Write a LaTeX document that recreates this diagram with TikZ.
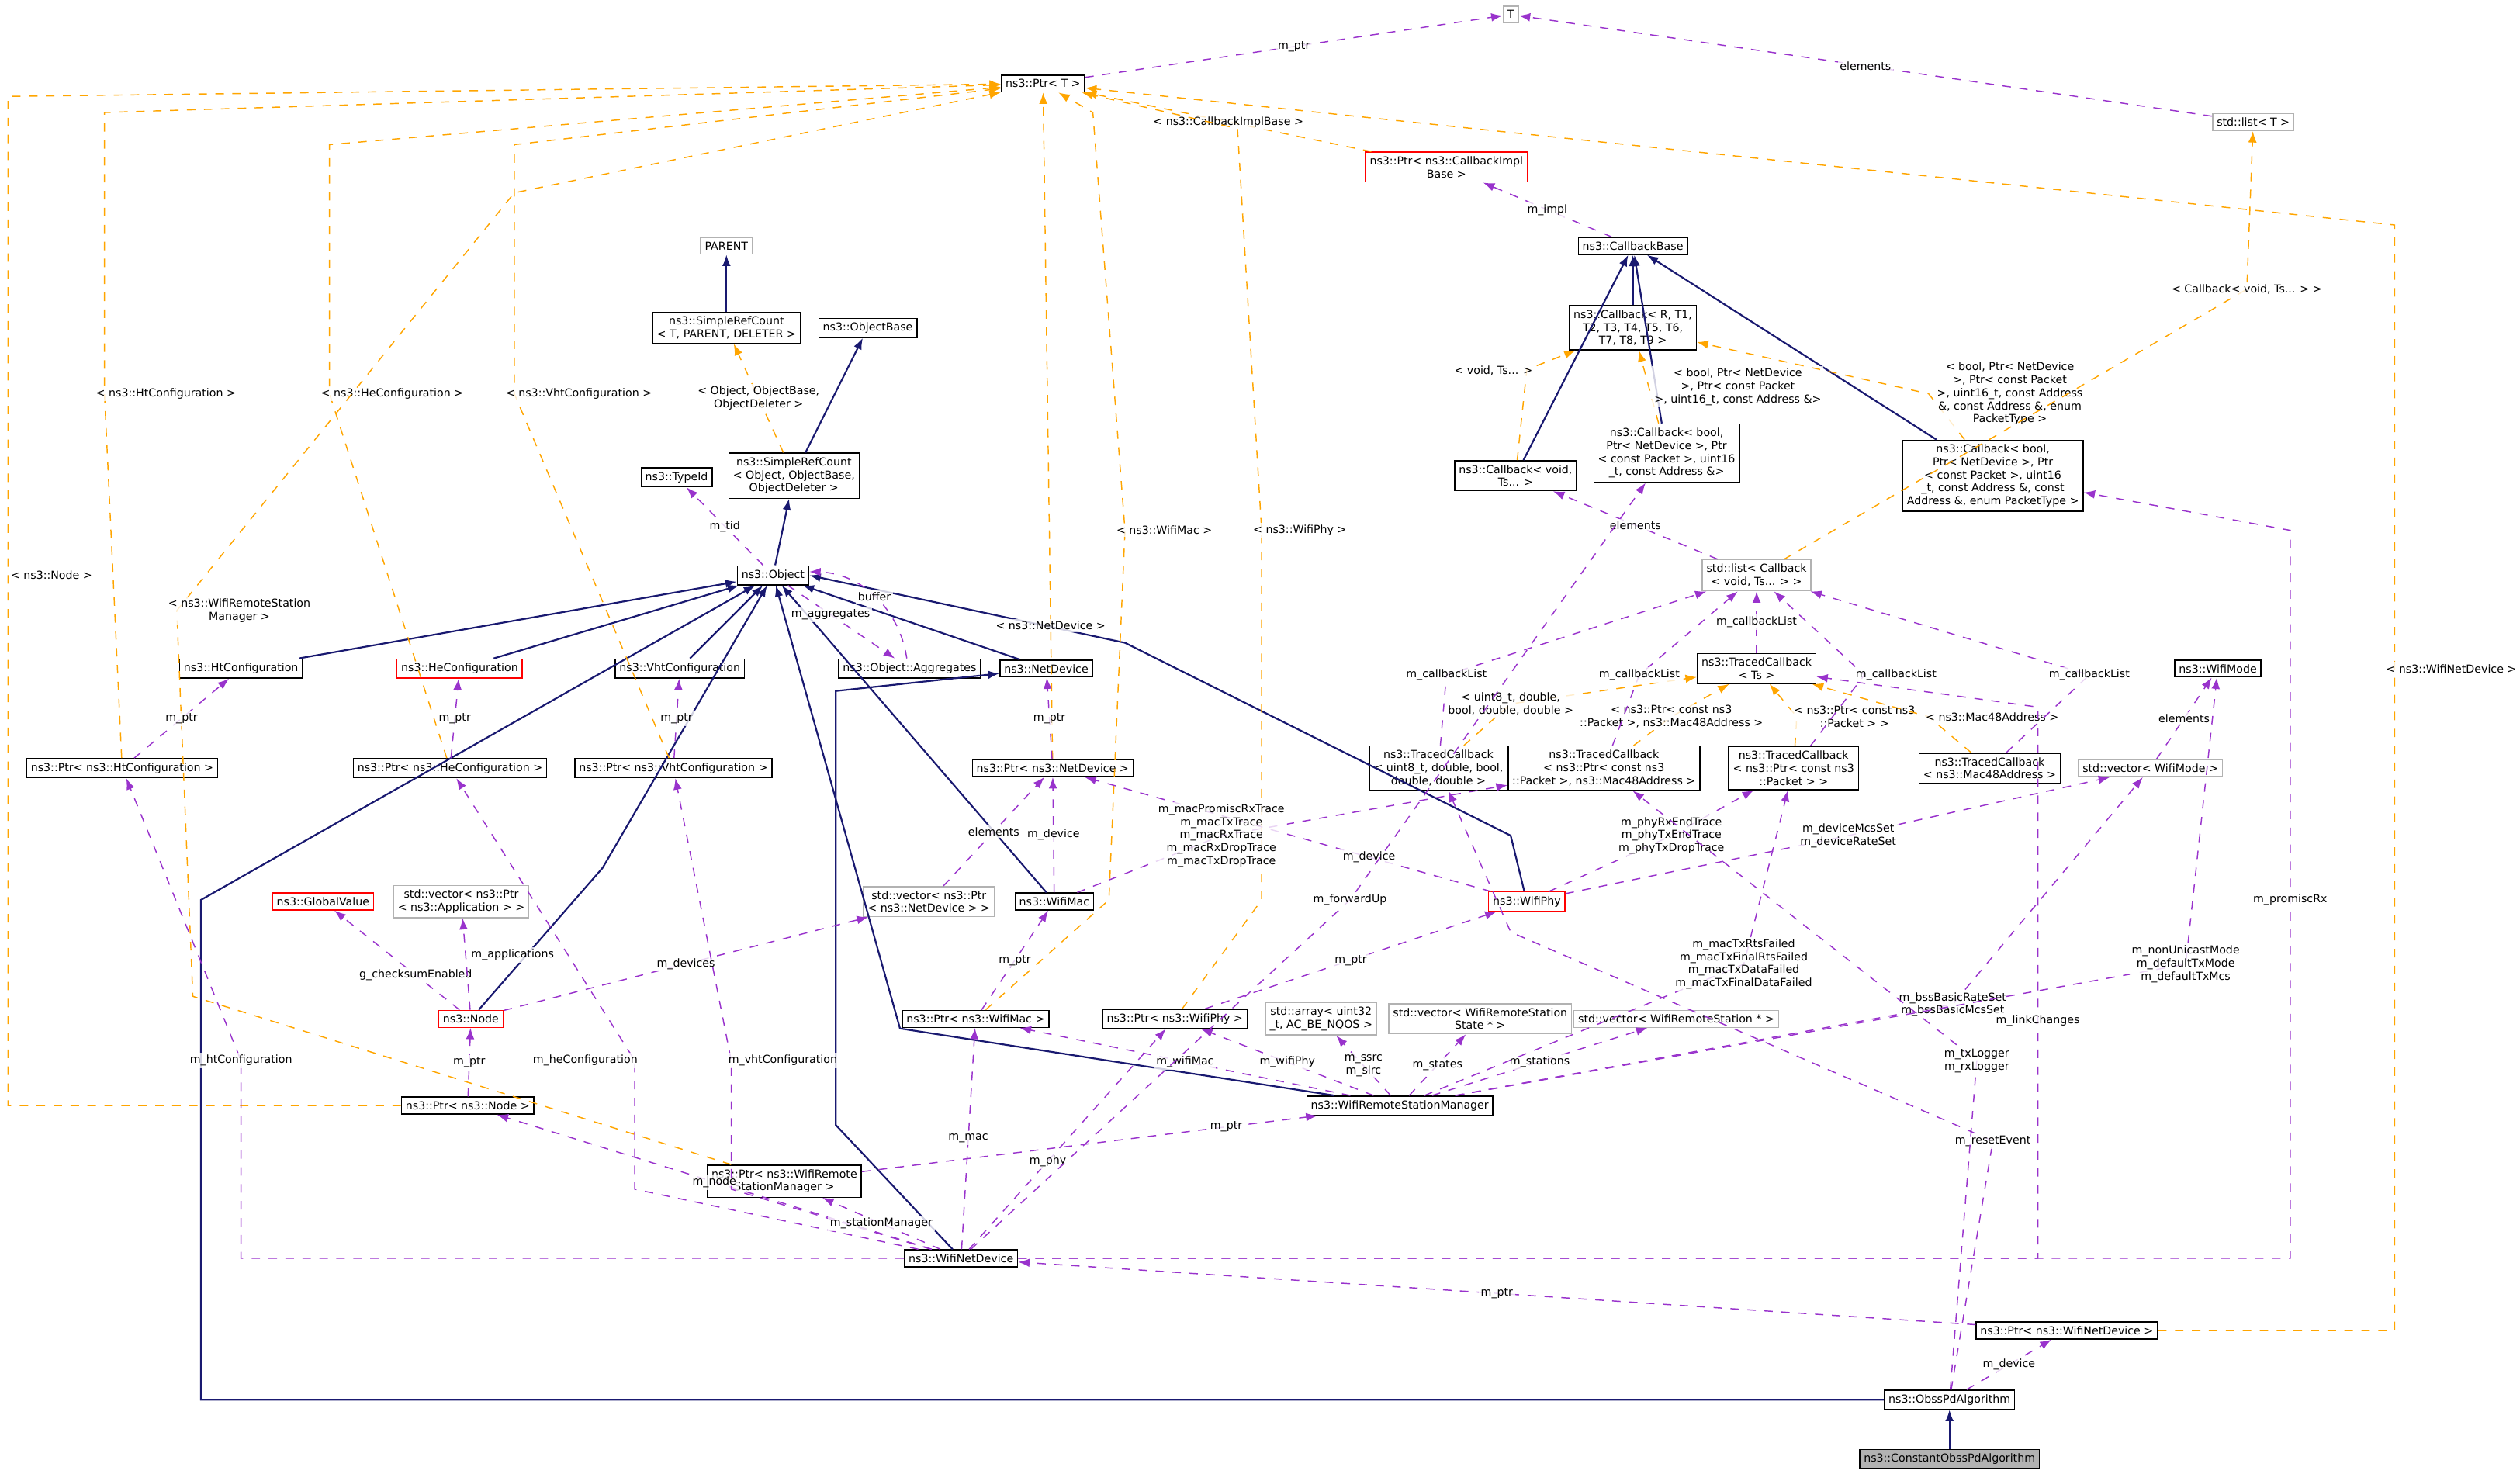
\documentclass[tikz,border=0pt]{standalone}
\usepackage{fontspec}
\setmainfont{DejaVu Sans}
\usetikzlibrary{arrows.meta}
\definecolor{inh}{RGB}{25,25,112}
\definecolor{usg}{RGB}{153,51,204}
\definecolor{tpl}{RGB}{255,165,0}
\tikzset{
  cls/.style={draw=black,rectangle,inner sep=1.5pt,align=center,font=\fontsize{3.9}{4.6}\selectfont,fill=white},
  ext/.style={cls,draw=gray!60},
  red/.style={cls,draw=red},
  inherit/.style={draw=inh,semithick,-{Latex[length=4pt,width=3pt]}},
  uses/.style={draw=usg,dashed,-{Latex[length=4pt,width=3pt]}},
  tmpl/.style={draw=tpl,dashed,-{Latex[length=4pt,width=3pt]}},
  lbl/.style={font=\fontsize{3.9}{4.6}\selectfont,align=center,inner sep=0.8pt,fill=white,fill opacity=0.8,text opacity=1}
}
\begin{document}
\begin{tikzpicture}[x=0.02cm,y=-0.02cm]
\useasboundingbox (0,0) rectangle (1568,917);
% classes
\node[ext] (T) at (940,9) {T};
\node[cls] (ptrT) at (649,52) {ns3::Ptr< T >};
\node[ext] (listT) at (1402,76) {std::list< T >};
\node[red] (ptrCBImpl) at (900,104) {ns3::Ptr< ns3::CallbackImpl\\Base >};
\node[ext] (parent) at (452,153) {PARENT};
\node[cls] (cbBase) at (1016,153) {ns3::CallbackBase};
\node[cls] (srcP) at (452,204) {ns3::SimpleRefCount\\< T, PARENT, DELETER >};
\node[cls] (objBase) at (540,204) {ns3::ObjectBase};
\node[cls] (cbRT) at (1016,204) {ns3::Callback< R, T1,\\T2, T3, T4, T5, T6,\\T7, T8, T9 >};
\node[cls] (typeId) at (421,297) {ns3::TypeId};
\node[cls] (srcO) at (494,296) {ns3::SimpleRefCount\\< Object, ObjectBase,\\ObjectDeleter >};
\node[cls] (cbVoid) at (943,296) {ns3::Callback< void,\\Ts... >};
\node[cls] (cbBool1) at (1037,282) {ns3::Callback< bool,\\Ptr< NetDevice >, Ptr\\< const Packet >, uint16\\\_t, const Address \&>};
\node[cls] (cbBool2) at (1240,296) {ns3::Callback< bool,\\Ptr< NetDevice >, Ptr\\< const Packet >, uint16\\\_t, const Address \&, const\\Address \&, enum PacketType >};
\node[cls] (object) at (481,358) {ns3::Object};
\node[ext] (listCB) at (1093,358) {std::list< Callback\\< void, Ts... > >};
\node[cls] (htConf) at (150,416) {ns3::HtConfiguration};
\node[red] (heConf) at (286,416) {ns3::HeConfiguration};
\node[cls] (vhtConf) at (423,416) {ns3::VhtConfiguration};
\node[cls] (objAgg) at (566,416) {ns3::Object::Aggregates};
\node[cls] (netDev) at (651,416) {ns3::NetDevice};
\node[cls] (tcTs) at (1093,416) {ns3::TracedCallback\\< Ts >};
\node[cls] (wifiMode) at (1380,416) {ns3::WifiMode};
\node[cls] (ptrHt) at (76,478) {ns3::Ptr< ns3::HtConfiguration >};
\node[cls] (ptrHe) at (280,478) {ns3::Ptr< ns3::HeConfiguration >};
\node[cls] (ptrVht) at (419,478) {ns3::Ptr< ns3::VhtConfiguration >};
\node[cls] (ptrND) at (655,478) {ns3::Ptr< ns3::NetDevice >};
\node[cls] (tcUint) at (895,478) {ns3::TracedCallback\\< uint8\_t, double, bool,\\double, double >};
\node[cls] (tcPkt) at (998,478) {ns3::TracedCallback\\< ns3::Ptr< const ns3\\::Packet >, ns3::Mac48Address >};
\node[cls] (tcPkt2) at (1116,478) {ns3::TracedCallback\\< ns3::Ptr< const ns3\\::Packet > >};
\node[cls] (tcMac) at (1238,478) {ns3::TracedCallback\\< ns3::Mac48Address >};
\node[ext] (vecMode) at (1338,478) {std::vector< WifiMode >};
\node[ext] (vecND) at (578,561) {std::vector< ns3::Ptr\\< ns3::NetDevice > >};
\node[cls] (wifiMac) at (656,561) {ns3::WifiMac};
\node[red] (wifiPhy) at (950,561) {ns3::WifiPhy};
\node[red] (globalVal) at (201,561) {ns3::GlobalValue};
\node[ext] (vecApp) at (287,561) {std::vector< ns3::Ptr\\< ns3::Application > >};
\node[red] (node) at (293,634) {ns3::Node};
\node[cls] (ptrMac) at (607,634) {ns3::Ptr< ns3::WifiMac >};
\node[cls] (ptrPhy) at (731,634) {ns3::Ptr< ns3::WifiPhy >};
\node[ext] (arrU) at (822,634) {std::array< uint32\\\_t, AC\_BE\_NQOS >};
\node[ext] (vecWRS) at (921,634) {std::vector< WifiRemoteStation\\State * >};
\node[ext] (vecWRSp) at (1043,634) {std::vector< WifiRemoteStation * >};
\node[cls] (ptrNode) at (291,688) {ns3::Ptr< ns3::Node >};
\node[cls] (wrsm) at (871,688) {ns3::WifiRemoteStationManager};
\node[cls] (ptrWRSM) at (488,735) {ns3::Ptr< ns3::WifiRemote\\StationManager >};
\node[cls] (wnd) at (598,783) {ns3::WifiNetDevice};
\node[cls] (ptrWND) at (1286,828) {ns3::Ptr< ns3::WifiNetDevice >};
\node[cls] (obss) at (1213,871) {ns3::ObssPdAlgorithm};
\node[cls,fill=gray!60] (constObss) at (1213,908) {ns3::ConstantObssPdAlgorithm};
% inheritance
\draw[inherit] (srcP) -- (parent);
\draw[inherit] (srcO) -- (objBase);
\draw[inherit] (object) -- (srcO);
\foreach \c in {htConf,heConf,vhtConf,netDev,wifiMac}
  \draw[inherit] (\c) -- (object);
\draw[inherit] (node) -- (375,540) -- (object);
\draw[inherit] (wifiPhy) -- (940,520) -- (700,400) -- (object.east);
\draw[inherit] (wrsm) -- (560,640) -- (object);
\draw[inherit] (wnd) -- (520,700) -- (520,430) -- (netDev);
\draw[inherit] (obss.west) -- (125,871) -- (125,560) -- (object);
\draw[inherit] (constObss) -- (obss);
\foreach \c in {cbRT,cbVoid,cbBool1,cbBool2}
  \draw[inherit] (\c) -- (cbBase);
% templates
\draw[tmpl] (ptrCBImpl) -- node[lbl] {< ns3::CallbackImplBase >} (ptrT);
\draw[tmpl] (ptrHt) -- (65,245) node[lbl,right=-4pt] {< ns3::HtConfiguration >} -- (65,70) -- (ptrT);
\draw[tmpl] (ptrHe) -- (205,245) node[lbl,right=-4pt] {< ns3::HeConfiguration >} -- (205,90) -- (ptrT);
\draw[tmpl] (ptrVht) -- (320,245) node[lbl,right=-4pt] {< ns3::VhtConfiguration >} -- (320,90) -- (ptrT);
\draw[tmpl] (ptrND) -- node[lbl,pos=0.2] {< ns3::NetDevice >} (ptrT);
\draw[tmpl] (ptrMac) -- (690,560) -- (700,330) node[lbl,right=-4pt] {< ns3::WifiMac >} -- (680,70) -- (ptrT);
\draw[tmpl] (ptrPhy) -- (785,560) -- (785,330) node[lbl,right=-4pt] {< ns3::WifiPhy >} -- (770,80) -- (ptrT);
\draw[tmpl] (ptrNode) -- (5,688) -- (5,358) node[lbl,anchor=west] {< ns3::Node >} -- (5,60) -- (ptrT);
\draw[tmpl] (ptrWRSM) -- (120,620) -- (110,380) node[lbl,right=-4pt] {< ns3::WifiRemoteStation\\Manager >} -- (320,120) -- (ptrT);
\draw[tmpl] (ptrWND) -- (1490,828) -- (1490,416) node[lbl,right=-4pt] {< ns3::WifiNetDevice >} -- (1490,140) -- (ptrT);
\draw[tmpl] (srcO) -- node[lbl] {< Object, ObjectBase,\\ObjectDeleter >} (srcP);
\draw[tmpl] (cbVoid) -- (950,230) node[lbl,above left=-3pt] {< void, Ts... >} -- (cbRT);
\draw[tmpl] (cbBool1) -- node[lbl,right=1pt] {< bool, Ptr< NetDevice\\>, Ptr< const Packet\\>, uint16\_t, const Address \&>} (cbRT);
\draw[tmpl] (cbBool2) -- (1200,245) node[lbl,right=2pt] {< bool, Ptr< NetDevice\\>, Ptr< const Packet\\>, uint16\_t, const Address\\\&, const Address \&, enum\\PacketType >} -- (cbRT);
\draw[tmpl] (listCB) -- (1398,180) node[lbl] {< Callback< void, Ts... > >} -- (listT);
\draw[tmpl] (tcUint) -- (940,438) node[lbl] {< uint8\_t, double,\\bool, double, double >} -- (tcTs);
\draw[tmpl] (tcPkt) -- (1040,446) node[lbl] {< ns3::Ptr< const ns3\\::Packet >, ns3::Mac48Address >} -- (tcTs);
\draw[tmpl] (tcPkt2) -- (1118,446) node[lbl,right=-2pt] {< ns3::Ptr< const ns3\\::Packet > >} -- (tcTs);
\draw[tmpl] (tcMac) -- (1200,446) node[lbl,right=-2pt] {< ns3::Mac48Address >} -- (tcTs);
% usage
\draw[uses] (ptrT) -- node[lbl] {m\_ptr} (T);
\draw[uses] (listT) -- node[lbl] {elements} (T);
\draw[uses] (cbBase) -- node[lbl] {m\_impl} (ptrCBImpl);
\draw[uses] (object) -- node[lbl] {m\_tid} (typeId);
\draw[uses] (object) -- node[lbl,pos=0.4] {m\_aggregates} (objAgg);
\draw[uses] (objAgg) to[bend right=40] node[lbl] {buffer} (object);
\draw[uses] (listCB) -- node[lbl] {elements} (cbVoid);
\draw[uses] (tcTs) -- node[lbl] {m\_callbackList} (listCB);
\draw[uses] (tcUint) -- (900,420) node[lbl] {m\_callbackList} -- (listCB);
\draw[uses] (tcPkt) -- (1020,420) node[lbl] {m\_callbackList} -- (listCB);
\draw[uses] (tcPkt2) -- (1160,420) node[lbl,right=-4pt] {m\_callbackList} -- (listCB);
\draw[uses] (tcMac) -- (1300,420) node[lbl] {m\_callbackList} -- (listCB);
\draw[uses] (vecMode) -- node[lbl] {elements} (wifiMode);
\draw[uses] (ptrHt) -- node[lbl] {m\_ptr} (htConf);
\draw[uses] (ptrHe) -- node[lbl] {m\_ptr} (heConf);
\draw[uses] (ptrVht) -- node[lbl] {m\_ptr} (vhtConf);
\draw[uses] (ptrND) -- node[lbl] {m\_ptr} (netDev);
\draw[uses] (wifiMac) -- node[lbl] {m\_device} (ptrND);
\draw[uses] (vecND) -- node[lbl] {elements} (ptrND);
\draw[uses] (wifiPhy) -- node[lbl,pos=0.3] {m\_device} (ptrND);
\draw[uses] (wifiMac) -- (760,520) node[lbl] {m\_macPromiscRxTrace\\m\_macTxTrace\\m\_macRxTrace\\m\_macRxDropTrace\\m\_macTxDropTrace} -- (tcPkt);
\draw[uses] (wifiPhy) -- (1040,520) node[lbl] {m\_phyRxEndTrace\\m\_phyTxEndTrace\\m\_phyTxDropTrace} -- (tcPkt2);
\draw[uses] (wifiPhy) -- (1150,520) node[lbl] {m\_deviceMcsSet\\m\_deviceRateSet} -- (vecMode);
\draw[uses] (ptrPhy) -- node[lbl] {m\_ptr} (wifiPhy);
\draw[uses] (ptrMac) -- node[lbl] {m\_ptr} (wifiMac);
\draw[uses] (node) -- node[lbl,pos=0.35] {g\_checksumEnabled} (globalVal);
\draw[uses] (node) -- node[lbl,pos=0.6,right=1pt] {m\_applications} (vecApp);
\draw[uses] (node) -- node[lbl] {m\_devices} (vecND);
\draw[uses] (ptrNode) -- node[lbl] {m\_ptr} (node);
\draw[uses] (wrsm) -- node[lbl] {m\_wifiMac} (ptrMac);
\draw[uses] (wrsm) -- node[lbl] {m\_wifiPhy} (ptrPhy);
\draw[uses] (wrsm) -- node[lbl] {m\_ssrc\\m\_slrc} (arrU);
\draw[uses] (wrsm) -- node[lbl] {m\_states} (vecWRS);
\draw[uses] (wrsm) -- node[lbl] {m\_stations} (vecWRSp);
\draw[uses] (wrsm) -- (1215,625) node[lbl] {m\_bssBasicRateSet\\m\_bssBasicMcsSet} -- (vecMode);
\draw[uses] (wrsm) -- (1360,600) node[lbl] {m\_nonUnicastMode\\m\_defaultTxMode\\m\_defaultTxMcs} -- (wifiMode);
\draw[uses] (wrsm) -- (1085,600) node[lbl] {m\_macTxRtsFailed\\m\_macTxFinalRtsFailed\\m\_macTxDataFailed\\m\_macTxFinalDataFailed} -- (tcPkt2);
\draw[uses] (ptrWRSM) -- node[lbl,pos=0.8] {m\_ptr} (wrsm);
\draw[uses] (wnd) -- node[lbl] {m\_node} (ptrNode);
\draw[uses] (wnd) -- (150,783) -- (150,660) node[lbl] {m\_htConfiguration} -- (ptrHt);
\draw[uses] (wnd) -- (395,740) -- (395,660) node[lbl,left=-2pt] {m\_heConfiguration} -- (ptrHe);
\draw[uses] (wnd) -- (455,740) -- (455,660) node[lbl,right=-2pt] {m\_vhtConfiguration} -- (ptrVht);
\draw[uses] (wnd) -- node[lbl] {m\_stationManager} (ptrWRSM);
\draw[uses] (wnd) -- node[lbl] {m\_mac} (ptrMac);
\draw[uses] (wnd) -- node[lbl,pos=0.4] {m\_phy} (ptrPhy);
\draw[uses] (wnd) -- (840,560) node[lbl] {m\_forwardUp} -- (cbBool1);
\draw[uses] (wnd) -- (1425,783) -- (1425,560) node[lbl] {m\_promiscRx} -- (1425,330) -- (cbBool2);
\draw[uses] (wnd) -- (1268,783) -- (1268,635) node[lbl] {m\_linkChanges} -- (1268,440) -- (tcTs);
\draw[uses] (ptrWND) -- node[lbl] {m\_ptr} (wnd);
\draw[uses] (obss) -- node[lbl] {m\_device} (ptrWND);
\draw[uses] (obss) -- (1240,710) node[lbl] {m\_resetEvent} -- (940,580) -- (tcUint);
\draw[uses] (obss) -- (1230,660) node[lbl] {m\_txLogger\\m\_rxLogger} -- (tcPkt);
\end{tikzpicture}
\end{document}
